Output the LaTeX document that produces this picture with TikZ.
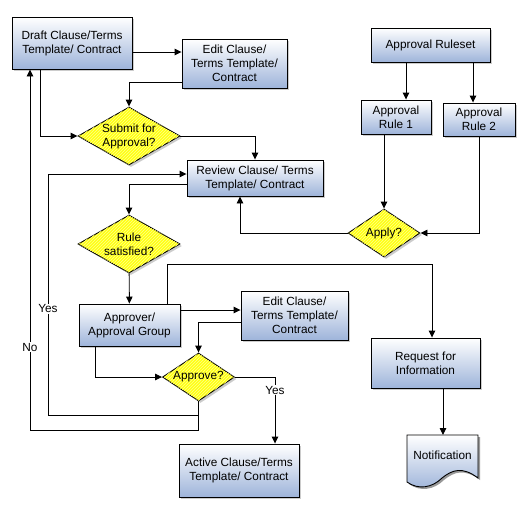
\documentclass[tikz,border=0pt]{standalone}
\usepackage{fontspec}
\setmainfont{Liberation Sans}
\usetikzlibrary{shapes.geometric,shadows,patterns,arrows.meta}
\definecolor{boxblue}{RGB}{158,180,218}
\definecolor{dyellow}{RGB}{255,255,20}
\tikzset{
  txt/.style={align=center,font=\fontsize{11.8}{14}\selectfont,inner sep=0pt},
  box/.style={txt,draw,line width=0.9pt,top color=white,bottom color=boxblue,
    drop shadow={shadow xshift=2pt,shadow yshift=-2pt,fill=black!40}},
  dec/.style={txt,diamond,draw,line width=0.9pt,fill=dyellow,
    postaction={pattern=north east lines,pattern color=white!55!yellow},
    drop shadow={shadow xshift=2pt,shadow yshift=-2pt,fill=black!40}},
  arr/.style={line width=0.9pt,-{Triangle[length=7pt,width=6.5pt]}},
  lbl/.style={txt,fill=white,inner sep=1pt}
}
\begin{document}
\begin{tikzpicture}[x=1pt,y=-1pt]
\useasboundingbox (0,0) rectangle (526,509);

\node[box,minimum width=120pt,minimum height=52pt] (draft) at (72,43) {Draft Clause/Terms\\Template/ Contract};
\node[box,minimum width=105pt,minimum height=49pt] (edit1) at (234.5,63.5) {Edit Clause/\\Terms Template/\\Contract};
\node[dec,minimum width=102pt,minimum height=58pt,aspect=1.76] (submit) at (129,136) {Submit for\\Approval?};
\node[box,minimum width=136pt,minimum height=36pt] (review) at (255,178) {Review Clause/ Terms\\Template/ Contract};
\node[box,minimum width=119pt,minimum height=34pt] (ruleset) at (430.5,45) {Approval Ruleset};
\node[box,minimum width=70pt,minimum height=34pt] (rule1) at (396,117) {Approval\\Rule 1};
\node[box,minimum width=72pt,minimum height=33pt] (rule2) at (479,119.5) {Approval\\Rule 2};
\node[dec,minimum width=72pt,minimum height=48pt,aspect=1.5] (apply) at (384,233) {Apply?};
\node[dec,minimum width=102pt,minimum height=58pt,aspect=1.76] (rulesat) at (129,244) {Rule\\satisfied?};
\node[box,minimum width=101pt,minimum height=42pt] (approver) at (129.5,325) {Approver/\\Approval Group};
\node[box,minimum width=107pt,minimum height=49pt] (edit2) at (294.5,315.5) {Edit Clause/\\Terms Template/\\Contract};
\node[dec,minimum width=72pt,minimum height=48pt,aspect=1.5] (approve) at (198.5,377) {Approve?};
\node[box,minimum width=120pt,minimum height=53pt] (active) at (239,470.5) {Active Clause/Terms\\Template/ Contract};
\node[box,minimum width=109pt,minimum height=50pt] (request) at (425.5,363) {Request for\\Information};

%-------------------------------------
\fill[black!40,xshift=2pt,yshift=-2pt] (407,435) -- (478,435) -- (478,478)
  .. controls (462,466) and (452,470) .. (442,478)
  .. controls (432,488) and (418,490) .. (407,482) -- cycle;
\shade[draw,line width=0.9pt,top color=white,bottom color=boxblue] (407,435) -- (478,435) -- (478,478)
  .. controls (462,466) and (452,470) .. (442,478)
  .. controls (432,488) and (418,490) .. (407,482) -- cycle;
\node[txt,minimum width=71pt,minimum height=40pt,anchor=north] (notif) at (442.5,435) {Notification};

%-------------------------------------
\draw[arr] (draft.east |- 0,52) -- (edit1.west |- 0,52);
\draw[arr] (edit1.west |- 0,82) -| (submit.north);
\draw[arr] (draft.south -| 40,0) |- (submit.west);
\draw[arr] (submit.east) -| (review.north);
\draw[arr] (ruleset.south -| 406,0) -- (rule1.north -| 406,0);
\draw[arr] (ruleset.south -| 473,0) -- (rule2.north -| 473,0);
\draw[arr] (rule1.south -| apply.north) -- (apply.north);
\draw[arr] (rule2.south) |- (apply.east);
\draw[arr] (apply.west) -| (review.south -| 240,0);
\draw[arr] (review.west |- 0,184) -| (rulesat.north);
\draw[arr] (rulesat) -- (approver);
\draw[arr] (approver.east |- 0,310) -- (edit2.west |- 0,310);
\draw[arr] (approver.north -| 167,0) -- (167,264) -| (request.north -| 432,0);
\draw[arr] (edit2.west |- 0,322) -| (approve.north);
\draw[arr] (approver.south -| 95,0) |- (approve.west);
\draw[arr] (approve.east) -| node[lbl,pos=0.6] {Yes} (active.north -| 275,0);
\draw[arr] (approve.south) |- (48,415) |- node[lbl,pos=0.22] {Yes} (review.west |- 0,174);
\draw[arr] (approve.south) |- (30,430) -- node[lbl,pos=0.23] {No} (draft.south -| 30,0);
\draw[arr] (request.south -| 443,0) -- (notif.north -| 443,0);
\end{tikzpicture}
\end{document}
